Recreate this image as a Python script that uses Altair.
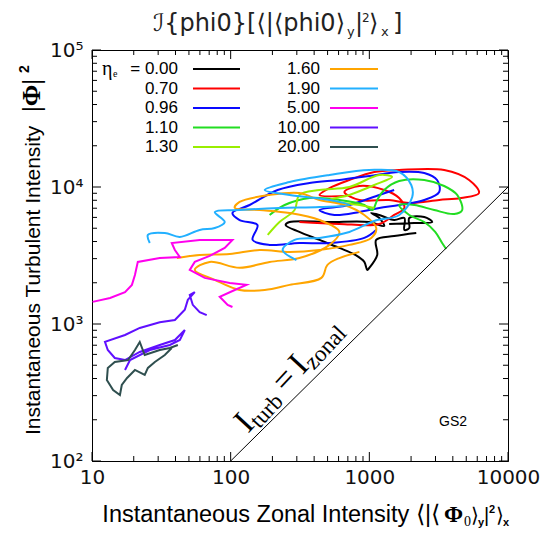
import altair as alt
import pandas as pd

# ---------------- data ----------------
series_labels = ["0.00", "0.70", "0.96", "1.10", "1.30", "1.60", "1.90", "5.00", "10.00", "20.00"]
series_colors = ["#000000", "#ff0000", "#0a0aff", "#22dd22", "#99ee00", "#ffa500",
                 "#22b0ff", "#ff00ee", "#6010ff", "#2f4f4f"]

x_000 = [2180, 1510, 1120, 1140, 1000, 967, 920, 793, 608, 437, 313, 249, 266, 516, 1000, 1280,
         1180, 1030, 1180, 1510, 1790, 1790, 1940, 1940, 2490, 2840, 2110, 1390]
y_000 = [4620, 4390, 4110, 3190, 2570, 2480, 2840, 3190, 3590, 4110, 4700, 5280, 5550, 5550, 5550,
         5190, 5940, 6460, 6250, 5740, 5940, 4860, 5020, 5940, 6040, 5550, 5460, 5370]

x_070 = [313, 608, 1180, 1510, 1790, 1640, 1280, 848, 661, 848, 1390, 1940, 3190, 4590, 6180,
         5240, 3465, 1640, 1086, 718, 516, 437, 661]
y_070 = [5550, 5370, 5370, 6250, 7030, 8320, 9510, 10170, 9200, 8040, 8040, 7650, 8040, 8320,
         9040, 11250, 13300, 13300, 12860, 11250, 9830, 8750, 8600]

x_096 = [1120, 920, 516, 313, 191, 144, 156, 116, 103, 137, 218, 370, 608, 1000, 1640, 2490,
         3080, 3190, 2490, 1640, 1180, 848, 560, 437, 718, 1180, 1510]
y_096 = [4860, 4250, 3900, 3900, 3780, 4110, 5280, 5740, 6460, 7390, 9510, 10690, 11250, 12030,
         12860, 12640, 11250, 9200, 8040, 7390, 7030, 6570, 6250, 6790, 7390, 8750, 9510]

x_110 = [191, 245, 370, 608, 920, 1050, 1140, 1280, 1640, 2490, 3465, 4300, 4670, 4090, 2935,
         2110, 1640, 1940, 2490, 2985, 3350, 3580]
y_110 = [6250, 7390, 8320, 8040, 7390, 6790, 8040, 9510, 11060, 11250, 10170, 8750, 6790, 6350,
         6790, 7390, 7390, 6250, 5550, 4700, 3900, 3530]

x_130 = [185, 225, 289, 313, 437, 718, 1180, 1460, 1086, 718, 516, 848, 1086]
y_130 = [4470, 5550, 6790, 8750, 9510, 10000, 12240, 11840, 10340, 8750, 8040, 7390, 7030]

x_160 = [40.9, 59.8, 98.4, 162, 266, 437, 718, 1033, 1122, 920, 661, 437, 313, 191, 116, 107,
         162, 266, 437, 608, 516, 313, 191, 116, 70.6, 55.1, 76.8, 116, 176, 266, 451, 499, 608, 848]
y_160 = [3030, 3190, 3240, 3470, 3360, 3470, 3780, 4250, 5020, 6250, 7390, 8040, 9040, 8750,
         7780, 7030, 6790, 6460, 5740, 4700, 3780, 3030, 2840, 2570, 2840, 2480, 2100, 1770,
         1770, 1930, 2170, 2700, 3030, 3360]

x_190 = [26.1, 25.3, 33.5, 43.0, 59.8, 76.8, 90.6, 76.8, 116, 225, 437, 718, 516, 266, 176, 266,
         516, 1000, 1644, 2006, 2039, 1644, 1086, 718, 437, 289, 237, 298]
y_190 = [3900, 4470, 4620, 4320, 4860, 5020, 5550, 6570, 6790, 7030, 7150, 7390, 8040, 8750,
         9510, 10870, 12240, 13300, 12860, 10340, 8460, 6250, 5650, 4700, 4250, 4110, 3470, 2930]

x_500 = [10.1, 13.5, 17.3, 19.4, 20.4, 21.4, 30.8, 43.0, 39.6, 37.6, 59.8, 103, 90.6, 70.6, 55.1,
         50.7, 65.0, 98.4, 130, 107, 83.4, 95.1, 103]
y_500 = [1450, 1550, 1710, 1930, 2280, 2840, 3030, 3080, 3470, 3900, 4110, 4110, 3590, 3140,
         2840, 2480, 2170, 1990, 1930, 1770, 1580, 1380, 1330]

x_1000 = [67.2, 59.8, 53.3, 50.7, 55.1, 49.1, 46.7, 39.6, 30.8, 22.1, 17.3, 12.4, 13.0, 14.6,
          17.3, 22.1, 30.8, 39.6, 46.7, 43.0, 36.4, 26.1, 18.8, 17.3]
y_1000 = [1160, 1220, 1380, 1630, 1710, 1500, 1270, 1070, 1030, 936, 831, 740, 646, 565, 546,
          625, 703, 764, 904, 764, 703, 646, 546, 462]

x_2000 = [41.6, 36.4, 30.8, 24.0, 22.1, 20.4, 18.2, 14.6, 13.0, 12.8, 14.2, 15.9, 16.4, 17.9,
          20.4, 24.0, 25.3, 28.4, 33.5, 37.6]
y_2000 = [703, 668, 646, 594, 740, 646, 546, 528, 478, 390, 330, 303, 359, 404, 462, 425, 478,
          528, 594, 668]

series_x = [x_000, x_070, x_096, x_110, x_130, x_160, x_190, x_500, x_1000, x_2000]
series_y = [y_000, y_070, y_096, y_110, y_130, y_160, y_190, y_500, y_1000, y_2000]
smooth_series = ["0.00", "0.70", "0.96", "1.10", "1.30", "1.60", "1.90"]

ref_line = [100, 10000]  # I_turb = I_zonal
x_major = [10, 100, 1000, 10000]
x_minor = [20, 30, 40, 50, 60, 70, 80, 90, 200, 300, 400, 500, 600, 700, 800, 900,
           2000, 3000, 4000, 5000, 6000, 7000, 8000, 9000]
y_major = [100, 1000, 10000, 100000]
y_minor = [200, 300, 400, 500, 600, 700, 800, 900, 2000, 3000, 4000, 5000, 6000, 7000, 8000, 9000,
           20000, 30000, 40000, 50000, 60000, 70000, 80000, 90000]

# ---------------- build tables ----------------
rows = []
for lab, xs, ys in zip(series_labels, series_x, series_y):
    for i, (a, b) in enumerate(zip(xs, ys)):
        rows.append({"s": lab, "i": i, "x": a, "y": b})
df = pd.DataFrame(rows)
df_smooth = df[df["s"].isin(smooth_series)]
df_rough = df[~df["s"].isin(smooth_series)]

W, H = 416, 411
FONT = "Liberation Sans"
TICKFONT = "DejaVu Sans"
SERIF = "Liberation Serif"
xs_ = alt.Scale(type="log", domain=[10, 10000], nice=False)
ys_ = alt.Scale(type="log", domain=[100, 100000], nice=False)
cs_ = alt.Scale(domain=series_labels, range=series_colors)

label_expr = ("'10' + (datum.value == 100 ? '²' : datum.value == 1000 ? '³' : "
              "datum.value == 10000 ? '⁴' : '⁵')")
xaxis = alt.Axis(values=x_major, format="d", ticks=False, grid=False, title=None,
                 labelFontSize=20, labelFont=TICKFONT, labelColor="#111111", labelPadding=6,
                 labelFlush=False, labelOverlap=False, domainColor="black")
yaxis = alt.Axis(values=y_major, labelExpr=label_expr, ticks=False, grid=False, title=None,
                 labelFontSize=20, labelFont=TICKFONT, labelColor="#111111", labelPadding=9,
                 labelOverlap=False, domainColor="black")

smooth = alt.Chart(df_smooth).mark_line(strokeWidth=2, interpolate="catmull-rom", clip=True).encode(
    x=alt.X("x:Q", scale=xs_, axis=xaxis),
    y=alt.Y("y:Q", scale=ys_, axis=yaxis),
    color=alt.Color("s:N", scale=cs_, legend=None),
    detail="s:N",
    order="i:Q",
)
rough = alt.Chart(df_rough).mark_line(strokeWidth=2, clip=True).encode(
    x=alt.X("x:Q", scale=xs_, axis=xaxis),
    y=alt.Y("y:Q", scale=ys_, axis=yaxis),
    color=alt.Color("s:N", scale=cs_, legend=None),
    detail="s:N",
    order="i:Q",
)

diag = alt.Chart(pd.DataFrame({"x": ref_line, "y": ref_line})).mark_line(
    color="black", strokeWidth=1).encode(
    x=alt.X("x:Q", scale=xs_, axis=xaxis), y=alt.Y("y:Q", scale=ys_, axis=yaxis))


def xticks(vals, length):
    d = pd.DataFrame({"x": vals})
    bot = alt.Chart(d).mark_rule(color="black", strokeWidth=1).encode(
        x=alt.X("x:Q", scale=xs_, axis=xaxis), y=alt.value(H), y2=alt.value(H - length))
    top = alt.Chart(d).mark_rule(color="black", strokeWidth=1).encode(
        x=alt.X("x:Q", scale=xs_, axis=xaxis), y=alt.value(0), y2=alt.value(length))
    return [bot, top]


def yticks(vals, length):
    d = pd.DataFrame({"y": vals})
    left = alt.Chart(d).mark_rule(color="black", strokeWidth=1).encode(
        y=alt.Y("y:Q", scale=ys_, axis=yaxis), x=alt.value(0), x2=alt.value(length))
    right = alt.Chart(d).mark_rule(color="black", strokeWidth=1).encode(
        y=alt.Y("y:Q", scale=ys_, axis=yaxis), x=alt.value(W), x2=alt.value(W - length))
    return [left, right]


one = pd.DataFrame({"a": [0]})


def txt(s, x, y, size, font=FONT, align="left", angle=0, dx=0, dy=0, weight="normal",
        color="black", baseline="alphabetic"):
    return alt.Chart(one).mark_text(text=s, fontSize=size, font=font, align=align, angle=angle,
                                    dx=dx, dy=dy, fontWeight=weight, color=color,
                                    baseline=baseline).encode(x=alt.value(x), y=alt.value(y))


# page -> view offsets
OX, OY = 92, 50
layers = [smooth, rough, diag]
layers += xticks(x_major, 9) + xticks(x_minor, 5) + yticks(y_major, 9) + yticks(y_minor, 5)

# legend
leg_cols = [(178, 193, 240), (320, 330, 378)]
for k, (lab, col) in enumerate(zip(series_labels, series_colors)):
    c, r = divmod(k, 5)
    tx, l1, l2 = leg_cols[c]
    yy = 69 + 19.5 * r - OY
    text = ("= " + lab) if k == 0 else lab
    layers.append(txt(text, tx - OX, yy, 17, align="right", baseline="middle"))
    layers.append(alt.Chart(one).mark_rule(color=col, strokeWidth=2).encode(
        x=alt.value(l1 - OX), x2=alt.value(l2 - OX), y=alt.value(yy)))
layers.append(txt("η", 102 - OX, 69 - OY, 20, font=SERIF, baseline="middle"))
layers.append(txt("e", 113 - OX, 69 - OY + 5, 10, font=SERIF, baseline="middle"))

# title
TB = 31 - OY
TC = "#222222"
layers += [
    txt("ℐ{phi0}[⟨|⟨phi0⟩", 345 - OX, TB, 24, font=TICKFONT, align="right", color=TC),
    txt("y", 347 - OX, TB + 5, 13, font=TICKFONT, color=TC),
    txt("|", 355 - OX, TB, 24, font=TICKFONT, color=TC),
    txt("2", 362 - OX, TB - 9, 12, font=TICKFONT, color=TC),
    txt("⟩", 369 - OX, TB, 24, font=TICKFONT, color=TC),
    txt("x", 381 - OX, TB + 5, 13, font=TICKFONT, color=TC),
    txt("]", 393 - OX, TB, 24, font=TICKFONT, color=TC),
]

# x axis title
XB = 522 - OY
layers += [
    txt("Instantaneous Zonal Intensity ⟨|⟨", 440 - OX, XB, 23.5, align="right"),
    txt("Φ", 444 - OX, XB, 23, font=SERIF, weight="bold"),
    txt("0", 464 - OX, XB + 4, 14, font=SERIF),
    txt("⟩", 471 - OX, XB, 20),
    txt("y", 478 - OX, XB + 4, 11, weight="bold"),
    txt("|", 484 - OX, XB, 20),
    txt("2", 489 - OX, XB - 9, 11, weight="bold"),
    txt("⟩", 496 - OX, XB, 20),
    txt("x", 503 - OX, XB + 4, 11, weight="bold"),
]

# y axis title (rotated)
YA = (40 - OX, 435 - OY)
layers += [
    txt("Instantaneous Turbulent Intensity", YA[0], YA[1], 21, angle=270),
    txt("|Φ|", YA[0], YA[1], 26, font=SERIF, weight="bold", angle=270, dx=323),
    txt("2", YA[0], YA[1], 14, weight="bold", angle=270, dx=362, dy=-11),
]

# diagonal annotation
DA = (248 - OX, 434 - OY)
ang = 313
layers += [
    txt("I", DA[0], DA[1], 34, font=SERIF, angle=ang, dx=0),
    txt("turb", DA[0], DA[1], 23, font=SERIF, angle=ang, dx=11, dy=5),
    txt("=", DA[0], DA[1], 34, font=SERIF, angle=ang, dx=55),
    txt("I", DA[0], DA[1], 34, font=SERIF, angle=ang, dx=80),
    txt("zonal", DA[0], DA[1], 23, font=SERIF, angle=ang, dx=91, dy=5),
]

layers.append(txt("GS2", 453 - OX, 426 - OY, 14, align="center"))

chart = alt.layer(*layers).properties(
    width=W, height=H,
    autosize=alt.AutoSizeParams(type="none"),
    padding={"left": 84, "top": 42, "right": 34, "bottom": 70},
).configure_view(stroke="black", strokeWidth=1)

chart.save("out.html", embed_options={"renderer": "svg", "actions": False})
